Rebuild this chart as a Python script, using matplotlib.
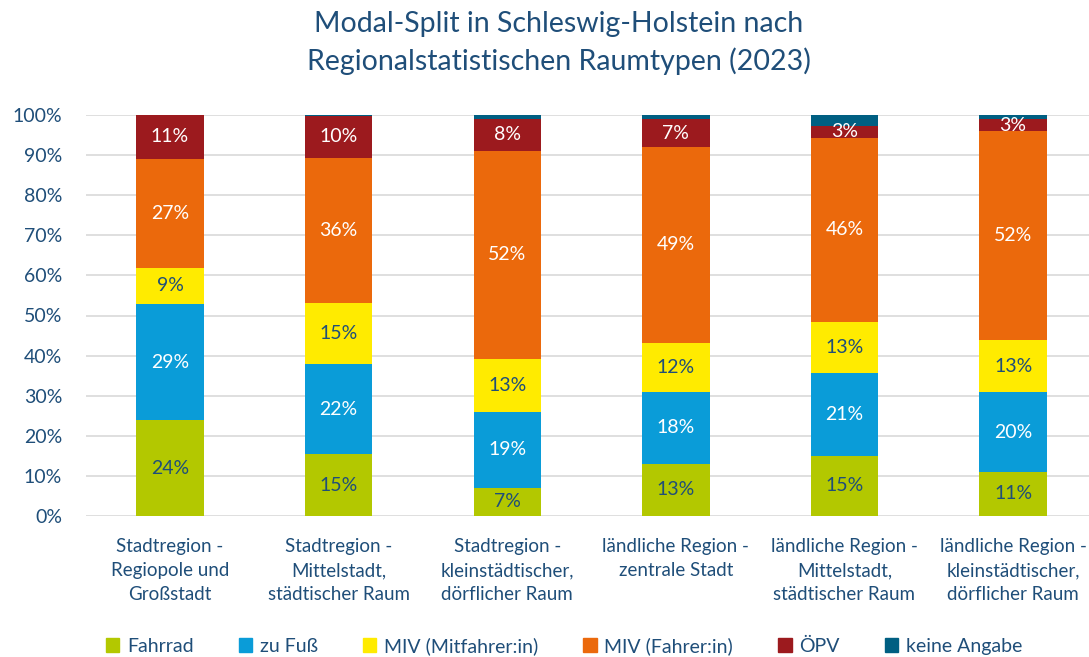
import matplotlib
matplotlib.use("Agg")
import matplotlib.pyplot as plt
from matplotlib.patches import Patch
import numpy as np

categories = ["Stadtregion -\nRegiopole und\nGroßstadt",
              "Stadtregion -\nMittelstadt,\nstädtischer Raum",
              "Stadtregion -\nkleinstädtischer,\ndörflicher Raum",
              "ländliche Region -\nzentrale Stadt",
              "ländliche Region -\nMittelstadt,\nstädtischer Raum",
              "ländliche Region -\nkleinstädtischer,\ndörflicher Raum"]
series = ["Fahrrad", "zu Fuß", "MIV (Mitfahrer:in)", "MIV (Fahrer:in)", "ÖPV", "keine Angabe"]
fahrrad = [23.9, 15.4, 7.0, 13.0, 15.0, 11.0]
zu_fuss = [29.0, 22.4, 19.0, 18.0, 20.6, 19.8]
mitfahrer = [9.0, 15.2, 13.1, 12.2, 12.8, 13.1]
fahrer = [27.2, 36.4, 52.0, 48.8, 45.9, 52.1]
oepv = [10.9, 10.4, 8.0, 7.0, 3.0, 3.0]
keine = [0.0, 0.2, 0.9, 1.0, 2.9, 1.0]
values = [fahrrad, zu_fuss, mitfahrer, fahrer, oepv, keine]
colors = ["#B3C800", "#0A9CD8", "#FFEB00", "#EB690C", "#9C1A1E", "#005F82"]
label_colors = ["#1F4E79", "white", "#1F4E79", "white", "white", None]
text_color = "#1F4E79"

plt.rcParams['font.family'] = ['Lato', 'DejaVu Sans']

fig = plt.figure(figsize=(10.89, 6.57), dpi=100)
ax = fig.add_axes([85.7/1089, 1-516/657, (1089-85.7)/1089, 401/657])

x = np.arange(len(categories))
bottom = np.zeros(len(categories))
for vals, col, lc in zip(values, colors, label_colors):
    vals = np.array(vals)
    ax.bar(x, vals, bottom=bottom, width=0.4, color=col, zorder=3)
    if lc is not None:
        for xi, v, b in zip(x, vals, bottom):
            ax.text(xi, b + v/2, f"{v:.0f}%", ha="center", va="center",
                    color=lc, fontsize=14, zorder=4)
    bottom += vals

ax.set_xlim(-0.5, 5.45)
ax.set_ylim(0, 100)
ax.set_yticks(np.arange(0, 101, 10))
ax.set_yticklabels([f"{t}%" for t in range(0, 101, 10)], color=text_color, fontsize=14)
ax.set_xticks(x)
ax.set_xticklabels(categories, color=text_color, fontsize=13.5, linespacing=1.5)
ax.tick_params(length=0)
ax.tick_params(axis='x', pad=16)
ax.tick_params(axis='y', pad=17)
ax.yaxis.grid(True, color="#D9D9D9", lw=1.2, zorder=0)
for s in ax.spines.values():
    s.set_visible(False)

fig.text(0.513, 1-43/657, "Modal-Split in Schleswig-Holstein nach\nRegionalstatistischen Raumtypen (2023)",
         ha="center", va="center", fontsize=20.5, color=text_color, linespacing=1.5)

handles = [Patch(color=c, label=s) for c, s in zip(colors, series)]
fig.legend(handles=handles, loc="center", bbox_to_anchor=(0.518, 1-646/657), ncol=6,
           frameon=False, fontsize=14, labelcolor=text_color, handlelength=0.7,
           handleheight=0.7, handletextpad=0.4, columnspacing=2.3)

fig.savefig("out.png", dpi=100)
